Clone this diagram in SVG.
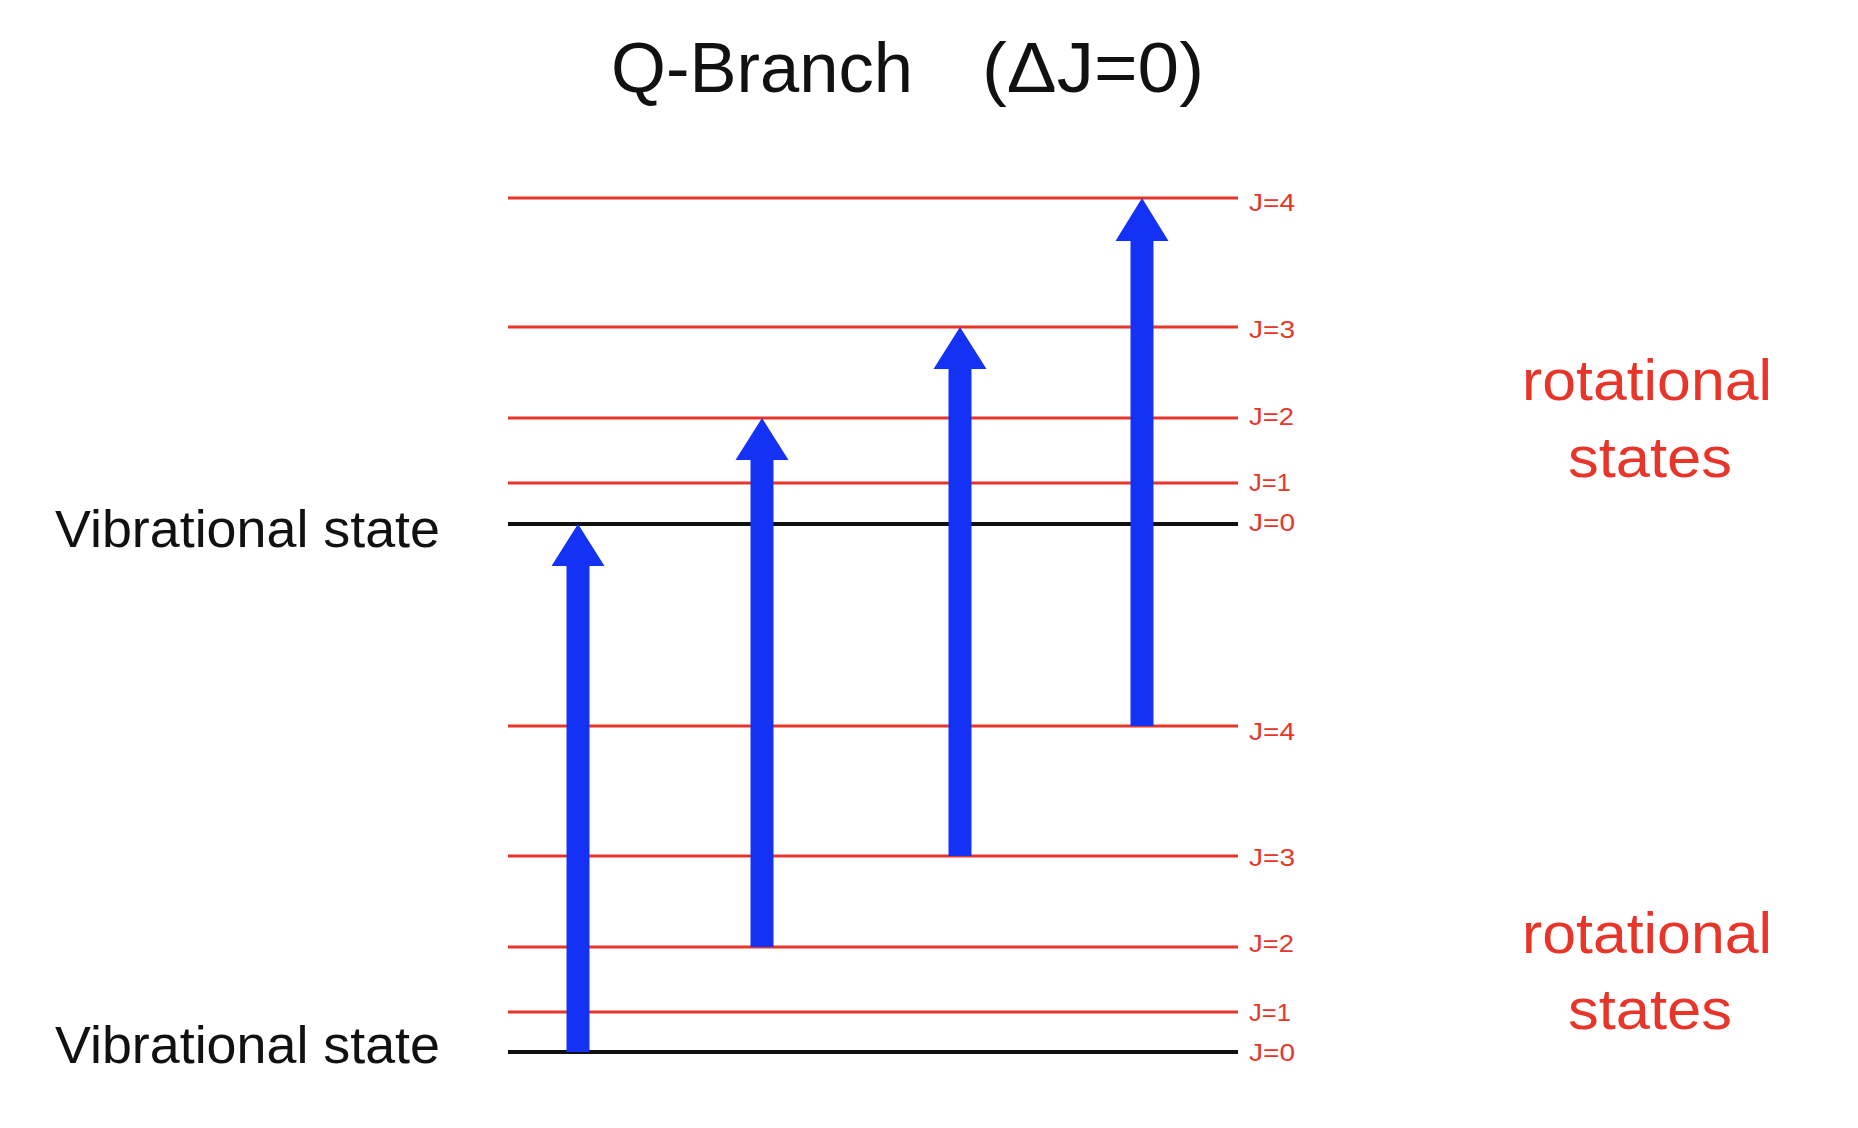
<svg xmlns="http://www.w3.org/2000/svg" width="1858" height="1128" viewBox="0 0 1858 1128">
  <style>
    .lvl { stroke: #e8352a; stroke-width: 3; fill: none; }
    .base { stroke: #111111; stroke-width: 4; fill: none; }
    .jl { font-family: "Liberation Sans", Arial, sans-serif; font-size: 24px; fill: #e8352a; }
    .vib { font-family: "Liberation Sans", Arial, sans-serif; font-size: 51px; fill: #111111; }
    .rot { font-family: "Liberation Sans", Arial, sans-serif; font-size: 58px; fill: #e8352a; }
    .title { font-family: "Liberation Sans", Arial, sans-serif; font-size: 70px; fill: #111111; }
    .arrow { fill: #1432f5; }
  </style>
  <rect width="1858" height="1128" fill="#ffffff"/>

  <g id="title">
    <text class="title" x="611" y="92" textLength="302" lengthAdjust="spacingAndGlyphs">Q-Branch</text>
    <text class="title" x="982" y="92" textLength="222" lengthAdjust="spacingAndGlyphs">(ΔJ=0)</text>
  </g>

  <g id="upper-state">
    <line class="lvl" x1="508" y1="198" x2="1238" y2="198"/>
    <line class="lvl" x1="508" y1="327" x2="1238" y2="327"/>
    <line class="lvl" x1="508" y1="418" x2="1238" y2="418"/>
    <line class="lvl" x1="508" y1="483" x2="1238" y2="483"/>
    <line class="base" x1="508" y1="524" x2="1238" y2="524"/>
    <text class="jl" x="1249" y="211" textLength="46" lengthAdjust="spacingAndGlyphs">J=4</text>
    <text class="jl" x="1249" y="338" textLength="46" lengthAdjust="spacingAndGlyphs">J=3</text>
    <text class="jl" x="1249" y="425" textLength="45" lengthAdjust="spacingAndGlyphs">J=2</text>
    <text class="jl" x="1249" y="491" textLength="42" lengthAdjust="spacingAndGlyphs">J=1</text>
    <text class="jl" x="1249" y="531" textLength="46" lengthAdjust="spacingAndGlyphs">J=0</text>
    <text class="vib" x="55" y="547" textLength="385" lengthAdjust="spacingAndGlyphs">Vibrational state</text>
    <text class="rot" x="1522" y="400" textLength="250" lengthAdjust="spacingAndGlyphs">rotational</text>
    <text class="rot" x="1568" y="477" textLength="164" lengthAdjust="spacingAndGlyphs">states</text>
  </g>

  <g id="lower-state">
    <line class="lvl" x1="508" y1="726" x2="1238" y2="726"/>
    <line class="lvl" x1="508" y1="856" x2="1238" y2="856"/>
    <line class="lvl" x1="508" y1="947" x2="1238" y2="947"/>
    <line class="lvl" x1="508" y1="1012" x2="1238" y2="1012"/>
    <line class="base" x1="508" y1="1052" x2="1238" y2="1052"/>
    <text class="jl" x="1249" y="740" textLength="46" lengthAdjust="spacingAndGlyphs">J=4</text>
    <text class="jl" x="1249" y="866" textLength="46" lengthAdjust="spacingAndGlyphs">J=3</text>
    <text class="jl" x="1249" y="952" textLength="45" lengthAdjust="spacingAndGlyphs">J=2</text>
    <text class="jl" x="1249" y="1021" textLength="42" lengthAdjust="spacingAndGlyphs">J=1</text>
    <text class="jl" x="1249" y="1061" textLength="46" lengthAdjust="spacingAndGlyphs">J=0</text>
    <text class="vib" x="55" y="1063" textLength="385" lengthAdjust="spacingAndGlyphs">Vibrational state</text>
    <text class="rot" x="1522" y="953" textLength="250" lengthAdjust="spacingAndGlyphs">rotational</text>
    <text class="rot" x="1568" y="1029" textLength="164" lengthAdjust="spacingAndGlyphs">states</text>
  </g>

  <g id="connectors">
    <path class="arrow" d="M578,524 L604.5,566 L589.5,566 L589.5,1052 L566.5,1052 L566.5,566 L551.5,566 Z"/>
    <path class="arrow" d="M762,418 L788.5,460 L773.5,460 L773.5,947 L750.5,947 L750.5,460 L735.5,460 Z"/>
    <path class="arrow" d="M960,327 L986.5,369 L971.5,369 L971.5,856 L948.5,856 L948.5,369 L933.5,369 Z"/>
    <path class="arrow" d="M1142,198 L1168.5,241 L1153.5,241 L1153.5,726 L1130.5,726 L1130.5,241 L1115.5,241 Z"/>
  </g>
</svg>
